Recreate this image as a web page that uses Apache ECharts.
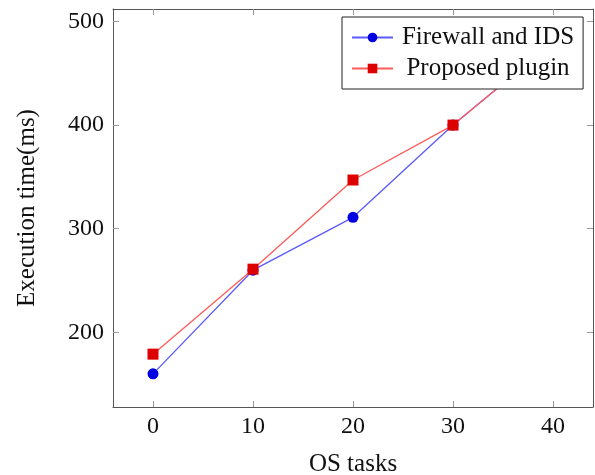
<!DOCTYPE html>
<html><head><meta charset="utf-8">
<script src="https://cdn.jsdelivr.net/npm/echarts@6/dist/echarts.min.js"></script>
<style>html,body{margin:0;padding:0;background:#fff}#c{width:595px;height:475px}</style>
</head><body><div id="c"></div>
<script>
var osTasks = [0, 10, 20, 30, 40];
var firewallIDS = [160, 260, 311, 400, 480];
var proposedPlugin = [179, 261, 347, 400, 480];
var xTicks = [0, 10, 20, 30, 40];
var yTicks = [200, 300, 400, 500];
var seriesNames = ['Firewall and IDS', 'Proposed plugin'];
var xName = 'OS tasks';
var yName = 'Execution time(ms)';

var FONT = '"Liberation Serif", "DejaVu Serif", serif';
var chart = echarts.init(document.getElementById('c'), null, {renderer: 'canvas'});
var xMin = -4, xMax = 44, yMin = 128, yMax = 512;
function pairs(xs, ys) { return xs.map(function (x, i) { return [x, ys[i]]; }); }
var axisLine = {show: true, onZero: false, lineStyle: {color: '#555', width: 1}};
var tickStyle = {show: true, inside: true, length: 6, lineStyle: {color: '#999', width: 1}};
chart.setOption({
  animation: false,
  backgroundColor: '#fff',
  grid: {left: 113, right: 2, top: 9, bottom: 68, show: false, containLabel: false, outerBoundsMode: 'none'},
  legend: {
    orient: 'vertical', left: 342, top: 17,
    backgroundColor: '#fff', borderColor: '#222', borderWidth: 1,
    padding: [8, 9, 8, 9], itemGap: 6, itemWidth: 41, itemHeight: 12,
    formatter: function (n) { return '{a|' + n + '}'; },
    textStyle: {fontFamily: FONT, fontSize: 25, color: '#111',
      rich: {a: {fontFamily: FONT, fontSize: 25, color: '#111', width: 180, align: 'center'}}},
    data: seriesNames
  },
  xAxis: [{
    type: 'value', min: xMin, max: xMax,
    name: xName, nameLocation: 'middle', nameGap: 45,
    nameTextStyle: {fontFamily: FONT, fontSize: 25, color: '#111'},
    axisLine: axisLine, splitLine: {show: false},
    axisTick: Object.assign({customValues: xTicks}, tickStyle),
    axisLabel: {customValues: xTicks, fontFamily: FONT, fontSize: 24, color: '#111', margin: 8}
  }, {
    type: 'value', position: 'top', min: xMin, max: xMax,
    axisLine: axisLine, splitLine: {show: false},
    axisTick: Object.assign({customValues: xTicks}, tickStyle),
    axisLabel: {show: false}
  }],
  yAxis: [{
    type: 'value', min: yMin, max: yMax,
    name: yName, nameLocation: 'middle', nameGap: 73,
    nameTextStyle: {fontFamily: FONT, fontSize: 25, color: '#111'},
    axisLine: axisLine, splitLine: {show: false},
    axisTick: Object.assign({customValues: yTicks}, tickStyle),
    axisLabel: {customValues: yTicks, fontFamily: FONT, fontSize: 24, color: '#111', margin: 9, padding: [8, 0, 0, 0]}
  }, {
    type: 'value', position: 'right', min: yMin, max: yMax,
    axisLine: axisLine, splitLine: {show: false},
    axisTick: Object.assign({customValues: yTicks}, tickStyle),
    axisLabel: {show: false}
  }],
  series: [{
    name: seriesNames[0], type: 'line', data: pairs(osTasks, firewallIDS),
    symbol: 'circle', symbolSize: 11,
    itemStyle: {color: '#0000e0'},
    lineStyle: {color: '#5a5aff', width: 1.3}
  }, {
    name: seriesNames[1], type: 'line', data: pairs(osTasks, proposedPlugin),
    symbol: 'rect', symbolSize: 11,
    itemStyle: {color: '#dd0000'},
    lineStyle: {color: '#ff5a5a', width: 1.3}
  }]
});
</script></body></html>
